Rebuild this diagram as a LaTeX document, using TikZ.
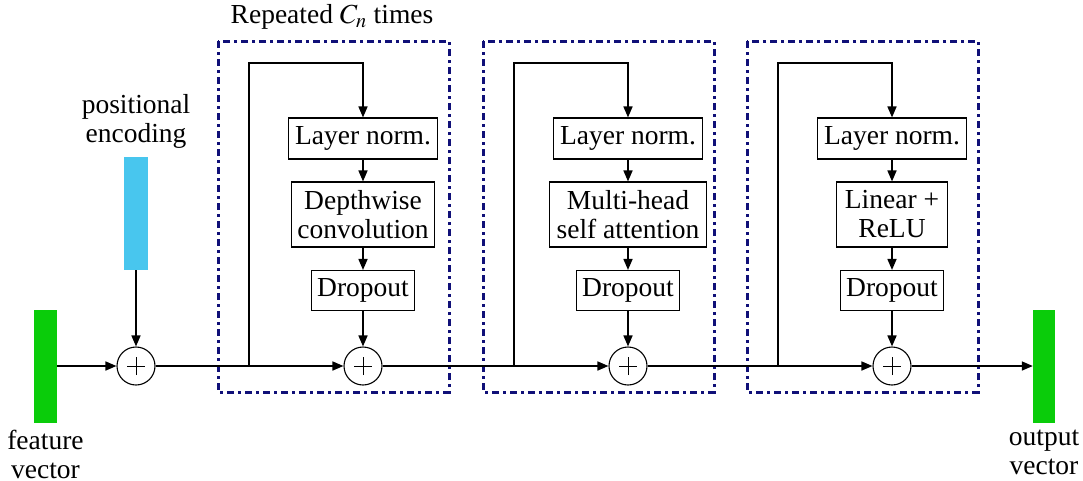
\documentclass[tikz,border=0pt]{standalone}
\usepackage{mathptmx}
\usepackage{fontspec}
\setmainfont{Liberation Serif}
\usetikzlibrary{arrows.meta,calc}
\definecolor{framenavy}{RGB}{16,16,120}
\definecolor{featgreen}{RGB}{10,204,10}
\definecolor{posblue}{RGB}{72,198,238}
\begin{document}
\begin{tikzpicture}[x=1pt,y=-1pt,
  font=\fontsize{27.5}{29}\selectfont,
  blk/.style={draw, line width=1.1pt, inner sep=3pt, align=center, fill=white},
  lnbox/.style={blk, minimum width=149pt, minimum height=41pt},
  dropbox/.style={blk, minimum width=103pt, minimum height=40pt},
  midbox/.style={blk, minimum height=65pt},
  adder/.style={circle, draw, line width=1.1pt, minimum size=38pt, inner sep=0pt, fill=white,
    path picture={\draw[line width=0.8pt] ([xshift=-9pt]path picture bounding box.center) -- ([xshift=9pt]path picture bounding box.center)
      ([yshift=-9pt]path picture bounding box.center) -- ([yshift=9pt]path picture bounding box.center);}},
  conn/.style={line width=1.6pt, -{Triangle[length=11pt,width=9pt]}},
  repframe/.style={draw=framenavy, line width=3pt, dash pattern=on 7pt off 4pt on 3pt off 4pt},
  vecbar/.style={minimum width=23pt, minimum height=113pt, inner sep=0pt},
  lbl/.style={align=center, inner sep=0pt}]
\useasboundingbox (0,0) rectangle (1083,480);

% repeated-block frames
\draw[repframe] (218,41) rectangle (449,392);
\draw[repframe] (483,41) rectangle (714,392);
\draw[repframe] (747,41) rectangle (978,392);
\node[lbl, anchor=base] (rep) at (332,23) {Repeated $C_n$ times};

% input and output vectors
\node[vecbar, fill=featgreen] (feat) at (45.5,366) {};
\node[lbl, anchor=north] (featlbl) at (45.5,430) {feature\\vector};
\node[vecbar, fill=posblue, minimum width=24pt] (pos) at (136,213.5) {};
\node[lbl, anchor=north] (poslbl) at (136,94) {positional\\encoding};
\node[vecbar, fill=featgreen, minimum width=22pt] (outv) at (1044,366) {};
\node[lbl, anchor=north] (outlbl) at (1044,430) {output\\vector};

% adders
\node[adder] (p0) at (136,366) {};
\node[adder] (p1) at (363,366) {};
\node[adder] (p2) at (628,366) {};
\node[adder] (p3) at (892,366) {};

% block 1: convolution
\node[lnbox] (ln1) at (363,138.5) {Layer norm.};
\node[midbox, minimum width=143pt] (conv) at (363,214.5) {Depthwise\\convolution};
\node[dropbox] (do1) at (363,290.5) {Dropout};

% block 2: self attention
\node[lnbox] (ln2) at (628,138.5) {Layer norm.};
\node[midbox, minimum width=157pt] (att) at (628,214.5) {Multi-head\\self attention};
\node[dropbox] (do2) at (628,290.5) {Dropout};

% block 3: feed forward
\node[lnbox] (ln3) at (892,138.5) {Layer norm.};
\node[midbox, minimum width=111pt] (ff) at (892,214.5) {Linear +\\ReLU};
\node[dropbox] (do3) at (892,290.5) {Dropout};

% residual branch points
\coordinate (s1) at (249,366);
\coordinate (k1) at (249,63);
\coordinate (s2) at (514,366);
\coordinate (k2) at (514,63);
\coordinate (s3) at (778,366);
\coordinate (k3) at (778,63);

% main path
\draw[conn] (feat.east) -- (p0.west);
\draw[conn] (pos.south) -- (p0.north);
\draw[conn] (p0.east) -- (p1.west);
\draw[conn] (p1.east) -- (p2.west);
\draw[conn] (p2.east) -- (p3.west);
\draw[conn] (p3.east) -- (outv.west);

% inside the blocks
\draw[conn] (s1) -- (k1) -| (ln1.north);
\draw[conn] (ln1) -- (conv);
\draw[conn] (conv) -- (do1);
\draw[conn] (do1) -- (p1);

\draw[conn] (s2) -- (k2) -| (ln2.north);
\draw[conn] (ln2) -- (att);
\draw[conn] (att) -- (do2);
\draw[conn] (do2) -- (p2);

\draw[conn] (s3) -- (k3) -| (ln3.north);
\draw[conn] (ln3) -- (ff);
\draw[conn] (ff) -- (do3);
\draw[conn] (do3) -- (p3);
\end{tikzpicture}
\end{document}
